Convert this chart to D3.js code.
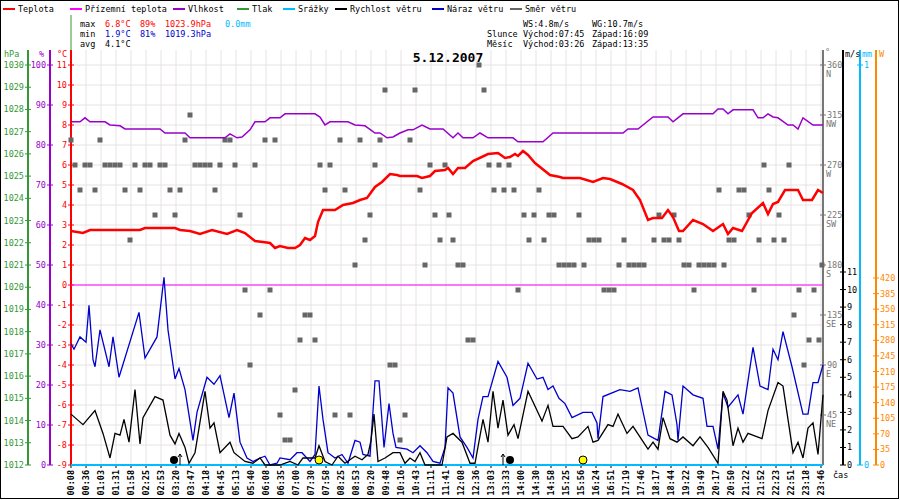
<!DOCTYPE html>
<html><head><meta charset="utf-8">
<script src="https://cdn.jsdelivr.net/npm/d3@7"></script>
<style>body{margin:0;background:#fff}svg{display:block}text{font-family:"DejaVu Sans Mono",monospace;font-size:8.5px}</style>
</head><body>
<svg width="900" height="500"></svg>
<script>
//casove znacky
var casy=["00:08","00:36","01:03","01:31","01:58","02:25","02:53","03:20","03:47","04:18","04:45","05:13","05:40","06:08","06:35","07:00","07:30","07:58","08:25","08:53","09:20","09:48","10:16","10:43","11:11","11:41","12:08","12:36","13:03","13:33","14:00","14:30","14:58","15:25","15:56","16:24","16:51","17:19","17:46","18:17","18:44","19:22","19:49","20:17","20:50","21:22","21:52","22:23","22:51","23:18","23:46"];
//teplota [vzorek, C]
var teplota=[[0,2.7],[2.4,2.6],[3.8,2.75],[13.8,2.75],[14.8,2.85],[20.8,2.85],[21.8,2.75],[23.8,2.7],[25.8,2.55],[28.2,2.75],[31.2,2.55],[33.2,2.75],[34.8,2.6],[36.8,2.2],[38.4,2.15],[39.8,2.1],[40.8,1.85],[41.8,1.95],[43.4,1.85],[44.8,1.85],[45.8,2.0],[46.8,2.35],[47.8,2.25],[48.8,2.45],[49.4,3.15],[50.4,3.75],[52.8,3.75],[54.4,4.0],[56.4,4.1],[57.8,4.25],[59.2,4.35],[60.8,4.9],[62.2,5.15],[63.8,5.55],[65.2,5.5],[65.8,5.45],[69.2,5.45],[70.2,5.35],[71.8,5.45],[72.8,5.7],[74.8,5.75],[75.4,5.85],[76.4,5.55],[77.4,5.85],[78.8,5.85],[80.4,6.2],[83.4,6.55],[85.4,6.6],[86.8,6.35],[87.8,6.4],[88.8,6.55],[89.4,6.45],[90.4,6.7],[91.4,6.5],[92.8,6.1],[95.8,5.5],[97.8,5.4],[98.4,5.35],[101.8,5.35],[104.4,5.15],[106.4,5.35],[107.8,5.3],[110.2,5.05],[112.4,4.75],[113.8,4.25],[115.4,3.25],[116.4,3.35],[118.2,3.35],[119.4,3.75],[120.4,3.4],[121.6,2.7],[122.4,2.7],[124.4,3.25],[126.4,3.05],[128.4,2.7],[130.4,3.05],[131.4,2.55],[132.4,2.85],[134.2,2.7],[136.2,3.6],[138.4,4.1],[139.4,3.55],[140.4,4.05],[141.4,4.15],[142.8,4.75],[145.4,4.75],[146.4,4.25],[148.2,4.25],[149.4,4.75],[150.4,4.6]];
//vlhkost [vzorek, %]
var vlhkost=[[0,85.8],[1.8,85.8],[2.8,86.8],[3.8,85.8],[6.8,85.8],[7.8,85],[9.8,84.8],[10.8,84],[17.8,84],[18.8,83],[22.8,83],[23.8,81.8],[30.8,81.8],[31.8,82.8],[33.2,81.8],[34.2,82],[35.8,83.8],[36.8,85.8],[38.8,85.8],[39.8,86.8],[41.8,86.8],[42.8,87.8],[48.8,87.8],[49.8,87],[50.8,85],[51.8,85.8],[55.4,85.8],[56.8,85],[58.8,84.8],[60.8,83],[61.8,83],[63.2,81.8],[64.4,82],[65.8,83],[67.4,83.8],[68.4,83.8],[70.2,85],[71.8,84],[74.4,84],[76.4,81.8],[77.4,83],[78.4,81.8],[80.4,81.8],[81.8,83],[83.4,81.8],[88.4,81.8],[89.4,80.8],[94.4,80.8],[96.4,83],[110.4,83],[111.4,84],[113.4,84],[116.4,87],[119.4,87],[120.4,85.8],[122.4,87.8],[128.4,87.8],[129.4,89],[130.4,89],[131.4,87.8],[132.4,88.8],[136.4,88.8],[137.4,86.8],[138.4,86.8],[139.4,87.8],[140.4,87],[141.4,86.8],[143.4,85],[144.4,85],[145.4,84],[146.4,86.8],[148.4,85],[150.4,85]];
//naraz vetru [vzorek, m/s]
var naraz=[[0,6.9],[0.6,6.6],[1.8,7.3],[3.0,7.0],[3.6,9.1],[4.4,6.0],[4.8,5.6],[5.8,7.7],[7.6,5.6],[8.4,7.3],[9.6,5.0],[13.6,8.7],[14.8,6.1],[17.2,7.3],[18.6,10.7],[19.4,7.7],[20.8,4.9],[21.6,5.5],[22.8,4.3],[24.4,1.4],[25.2,3.0],[27.2,5.0],[28.6,4.6],[29.8,5.1],[31.6,2.7],[32.6,4.1],[33.8,1.3],[35.2,0.4],[36.4,0.2],[37.8,0.4],[38.8,0.5],[39.8,0],[41.2,0.1],[41.8,0.4],[43.8,0.3],[45.2,0.7],[46.2,0.7],[47.8,0.2],[48.8,0.6],[49.6,4.5],[50.4,2.6],[51.4,0.7],[52.8,0.4],[54.2,0.6],[55.4,0.1],[56.8,1.4],[57.8,1.3],[58.4,0.6],[59.8,0.5],[60.8,4.8],[61.6,4.8],[62.6,1.0],[63.6,3.5],[64.4,1.8],[65,1.0],[67.2,0.9],[68.4,0.7],[69.8,1.1],[71.2,0.7],[72.4,0.2],[73.8,0.1],[74.8,1.0],[75.4,4.4],[76.4,4.1],[77.8,1.6],[79.2,1.0],[80.4,0.4],[81.4,2.6],[82.4,3.9],[83.4,3.9],[85.4,5.9],[87.2,5.0],[88.4,3.4],[89.8,3.8],[91.4,5.8],[93.2,4.9],[94.4,5.0],[95.4,4.3],[96.4,4.5],[97.6,3.8],[98.8,3.5],[100.2,2.7],[102.4,3.0],[104.2,3.0],[105.2,2.4],[105.4,1.5],[106.4,3.9],[109.8,4.3],[111.8,4.2],[113.4,4.4],[115.4,1.7],[117.4,1.4],[118.8,4.2],[120.2,4.0],[121.2,2.3],[121.4,1.4],[122.4,4.5],[124.4,4.0],[126.4,3.8],[127.2,2.2],[128.4,2.2],[129.4,0.9],[130.4,4.1],[131.4,3.3],[133.4,4.0],[134.4,2.9],[136.4,6.7],[137.8,4.5],[139.4,4.3],[140.4,6.6],[141.4,6.0],[142.4,7.6],[144.2,5.6],[146.4,2.9],[147.4,2.9],[148.4,4.7],[149.4,4.7],[150.4,5.7]];
//rychlost vetru [vzorek, m/s]
var rychlost=[[0,2.9],[2.4,2.3],[4.8,3.1],[6.4,1.8],[7.8,0.4],[8.8,1.8],[9.8,1.7],[10.6,2.6],[11.6,1.3],[12.8,4.3],[13.8,1.2],[14.4,2.7],[16.8,3.9],[18.4,3.7],[19.8,1.7],[20.8,1.2],[21.6,1.8],[22.8,1.0],[23.6,0.1],[24.8,0.7],[26.8,4.2],[27.8,2.1],[28.6,2.4],[29.8,0.7],[31.8,1.3],[32.6,0.7],[34.8,0.2],[36.4,0.1],[37.8,0.4],[38.8,0],[41.8,0],[43.8,0.2],[45.4,0],[46.4,0.4],[48.8,0.4],[49.6,1.1],[50.8,0.2],[52.2,0],[53.4,0.5],[54.8,0.1],[56.8,0.5],[58.2,0.3],[59.4,0.6],[60,1.4],[60.6,2.9],[61.4,0.2],[62.8,0.4],[64.4,0.7],[65.8,0.7],[66.8,0.1],[67.8,0.4],[68.8,0.2],[69.8,0.7],[70.8,0],[74.2,0],[75.2,1.6],[76.4,1.8],[78.2,1.3],[79.8,0.1],[80.8,0.1],[82.4,2.6],[83.4,1.3],[84.4,4.2],[85.4,2.1],[86.4,3.7],[87.4,1.7],[88.6,2.3],[89.4,1.5],[91.4,4.2],[94.2,2.5],[95.4,3.4],[96.4,2.2],[98.4,2.2],[100.2,1.5],[101.4,1.6],[103.4,2.2],[104.4,1.3],[105.4,1.4],[107.4,2.3],[108.4,2.2],[109.4,2.9],[111.2,1.8],[112.4,2.2],[115.4,0.9],[116.4,1.3],[117.4,0.9],[118.4,2.7],[119.8,1.5],[121.2,1.3],[122.4,1.6],[124.4,1.1],[125.8,1.6],[127.4,1.0],[129.4,0.1],[130.4,4.2],[131.2,3.7],[132.4,1.1],[133.4,2.1],[134.4,1.3],[135.4,1.8],[138.2,1.5],[139.4,3.1],[141.4,4.7],[142.4,4.5],[144.4,0.7],[145.4,1.3],[146.4,0.4],[147.4,2.1],[148.4,2.4],[149.4,0.6],[150.4,4.0]];
//smer vetru [vzorek, stupne]
var smer=[[0,292.5],[0.8,270],[1.8,247.5],[2.8,270],[3.8,270],[4.8,247.5],[5.8,292.5],[6.8,270],[7.8,270],[8.8,270],[9.8,270],[10.8,247.5],[11.8,202.5],[12.8,270],[13.8,247.5],[14.8,270],[15.8,270],[16.8,225],[17.8,270],[18.8,270],[19.8,247.5],[20.8,225],[21.8,247.5],[22.8,292.5],[23.8,315],[24.8,270],[25.8,270],[26.8,270],[27.8,270],[28.8,247.5],[29.8,270],[30.8,292.5],[31.8,292.5],[32.8,270],[33.8,225],[34.8,157.5],[35.8,90],[36.8,270],[37.8,135],[38.8,292.5],[39.8,157.5],[40.8,292.5],[41.8,45],[42.8,22.5],[43.8,22.5],[44.8,67.5],[45.8,112.5],[46.8,135],[47.8,135],[48.8,112.5],[49.8,270],[50.8,247.5],[51.8,270],[52.8,45],[53.8,292.5],[54.8,247.5],[55.8,45],[56.8,180],[57.8,292.5],[58.8,202.5],[59.8,225],[60.8,270],[61.8,292.5],[62.8,337.5],[63.8,90],[64.8,90],[65.8,22.5],[66.8,45],[67.8,292.5],[68.8,337.5],[69.8,247.5],[70.8,180],[71.8,270],[72.8,225],[73.8,202.5],[74.8,270],[75.6,225],[76.4,202.5],[77.4,180],[78.4,180],[79.4,112.5],[80.4,112.5],[81.6,360],[82.6,337.5],[83.6,270],[84.6,247.5],[85.6,270],[86.6,247.5],[87.6,270],[88.6,247.5],[89.4,157.5],[90.6,225],[91.6,202.5],[92.6,225],[93.6,247.5],[94.6,202.5],[95.6,225],[96.6,225],[97.6,180],[98.6,180],[99.6,180],[100.6,180],[101.6,225],[102.6,180],[103.6,202.5],[104.6,202.5],[105.6,202.5],[106.6,157.5],[107.6,157.5],[108.6,157.5],[109.6,180],[110.6,202.5],[111.6,180],[112.6,180],[113.6,180],[114.6,180],[116.6,202.5],[117.6,225],[118.6,202.5],[119.6,202.5],[120.6,225],[121.6,202.5],[122.6,180],[123.6,180],[124.6,157.5],[125.6,180],[126.6,180],[127.6,180],[128.6,180],[129.6,247.5],[130.6,180],[131.6,202.5],[132.6,202.5],[133.6,247.5],[134.6,247.5],[135.6,225],[136.6,157.5],[137.6,202.5],[138.6,270],[139.6,247.5],[140.6,202.5],[141.6,225],[142.6,202.5],[143.6,270],[144.6,135],[145.6,157.5],[146.6,90],[147.6,112.5],[148.6,157.5],[149.6,112.5],[150.2,180]];
//udalosti
var tecky=[[20.6,"#000"],[87.8,"#000"],[49.6,"#ff0"],[102.4,"#ff0"]];
var sipky=[21.8,86.4];

var svg=d3.select("svg");
var x=d3.scaleLinear().domain([0,150]).range([71,821]);
var yT=d3.scaleLinear().domain([-9,11]).range([465,65]);
var yP=d3.scaleLinear().domain([1012,1030]).range([465,65]);
var yH=d3.scaleLinear().domain([0,100]).range([465,65]);
var yD=d3.scaleLinear().domain([0,360]).range([465,65]);
var yW=d3.scaleLinear().domain([0,11]).range([465,272]);
var yR=d3.scaleLinear().domain([0,1]).range([465,65]);
var yS=d3.scaleLinear().domain([0,420]).range([465,278]);

svg.append("rect").attr("x",0.5).attr("y",0.5).attr("width",898).attr("height",498).attr("fill","none").attr("stroke","#000");

//mrizka
var grid=svg.append("g").attr("stroke","#e6e2e2");
casy.forEach(function(c,i){grid.append("line").attr("x1",x(i*3)).attr("x2",x(i*3)).attr("y1",50).attr("y2",465);});
d3.range(-9,12).forEach(function(t){grid.append("line").attr("x1",71).attr("x2",823).attr("y1",yT(t)).attr("y2",yT(t));});

//legenda
var leg=[["Teplota","#f00",3],["Přízemní teplota","#f0f",70],["Vlhkost","#90c",173],["Tlak","#393",237],["Srážky","#0bf",283],["Rychlost větru","#000",335],["Náraz větru","#00c",432],["Směr větru","#666",510]];
leg.forEach(function(l){
  svg.append("line").attr("x1",l[2]).attr("x2",l[2]+12).attr("y1",9).attr("y2",9).attr("stroke",l[1]).attr("stroke-width",2);
  svg.append("text").attr("x",l[2]+15).attr("y",12).text(l[0]);
});
svg.append("line").attr("x1",71).attr("x2",71).attr("y1",15).attr("y2",50).attr("stroke","#393");
//statistiky
var st=[["max",80,27,"#000"],["6.8°C",105,27,"#f00"],["89%",140,27,"#f00"],["1023.9hPa",165,27,"#f00"],["0.0mm",225,27,"#0bf"],
["min",80,37,"#000"],["1.9°C",105,37,"#00c"],["81%",140,37,"#00c"],["1019.3hPa",165,37,"#00c"],
["avg",80,47,"#000"],["4.1°C",105,47,"#000"],
["WS:4.8m/s",523,27,"#000"],["WG:10.7m/s",592,27,"#000"],
["Slunce",487,37,"#000"],["Východ:07:45",523,37,"#000"],["Západ:16:09",592,37,"#000"],
["Měsíc",487,47,"#000"],["Východ:03:26",523,47,"#000"],["Západ:13:35",592,47,"#000"]];
st.forEach(function(s){svg.append("text").attr("x",s[1]).attr("y",s[2]).attr("fill",s[3]).text(s[0]);});
svg.append("text").attr("x",448).attr("y",62).attr("text-anchor","middle").style("font-size","13px").style("font-weight","bold").text("5.12.2007");

//osy
function osa(g,scale,ticks,col,px){
  var a=svg.append("g").attr("transform","translate("+px+",0)");
  a.append("line").attr("x1",0).attr("x2",0).attr("y1",50).attr("y2",465).attr("stroke",col).attr("stroke-width",2);
  ticks.forEach(function(t){
    var yy=scale(t);
    a.append("line").attr("x1",-3).attr("x2",3).attr("y1",yy).attr("y2",yy).attr("stroke",col);
    a.append("text").attr("x",g<0?-4:4).attr("y",yy+3).attr("text-anchor",g<0?"end":"start").attr("fill",col).text(t);
  });
  return a;
}
osa(-1,yP,d3.range(1012,1031),"#393",28);
osa(-1,yH,d3.range(0,101,10),"#90c",50);
osa(-1,yT,d3.range(-9,12),"#f00",71);
svg.append("text").attr("x",4).attr("y",57).attr("fill","#393").text("hPa");
svg.append("text").attr("x",39).attr("y",57).attr("fill","#90c").text("%");
svg.append("text").attr("x",57).attr("y",57).attr("fill","#f00").text("°C");
osa(1,yD,[45,90,135,180,225,270,315,360],"#777",823);
var sm={45:"NE",90:"E",135:"SE",180:"S",225:"SW",270:"W",315:"NW",360:"N"};
[45,90,135,180,225,270,315,360].forEach(function(d){svg.append("text").attr("x",826).attr("y",yD(d)+12).attr("fill","#777").text(sm[d]);});
osa(1,yW,d3.range(0,12),"#000",843);
osa(1,yR,[0,1],"#0bf",860);
osa(1,yS,d3.range(0,421,35),"#f80",876);
svg.append("text").attr("x",825).attr("y",55).attr("fill","#777").text("°");
svg.append("text").attr("x",845).attr("y",57).attr("fill","#000").text("m/s");
svg.append("text").attr("x",862).attr("y",57).attr("fill","#0bf").text("mm");
svg.append("text").attr("x",879).attr("y",57).attr("fill","#f80").text("W");
svg.append("text").attr("x",833).attr("y",478).text("čas");

//casova osa
casy.forEach(function(c,i){
  svg.append("line").attr("x1",x(i*3)).attr("x2",x(i*3)).attr("y1",465).attr("y2",468).attr("stroke","#000");
  svg.append("text").attr("transform","translate("+(x(i*3)+3)+",470) rotate(-90)").attr("text-anchor","end").style("font-weight","bold").text(c);
});

//smer vetru
svg.append("g").selectAll("rect").data(smer).enter().append("rect")
  .attr("x",function(d){return x(d[0])-2.5;}).attr("y",function(d){return yD(d[1])-2.5;})
  .attr("width",5).attr("height",5).attr("fill","#666");

//prizemni teplota a srazky
svg.append("line").attr("x1",71).attr("x2",823).attr("y1",yT(0)).attr("y2",yT(0)).attr("stroke","#f0f");
svg.append("line").attr("x1",71).attr("x2",823).attr("y1",yR(0)).attr("y2",yR(0)).attr("stroke","#0bf").attr("stroke-width",2);

var line=function(ys){return d3.line().x(function(d){return x(d[0]);}).y(function(d){return ys(d[1]);});};
svg.append("path").datum(naraz).attr("fill","none").attr("stroke","#00c").attr("stroke-width",1.3).attr("d",line(yW));
svg.append("path").datum(rychlost).attr("fill","none").attr("stroke","#000").attr("stroke-width",1.3).attr("d",line(yW));
svg.append("path").datum(vlhkost).attr("fill","none").attr("stroke","#90c").attr("stroke-width",1.5).attr("d",line(yH));
svg.append("path").datum(teplota).attr("fill","none").attr("stroke","#f00").attr("stroke-width",2.5).attr("d",line(yT));

//udalosti
tecky.forEach(function(t){
  svg.append("circle").attr("cx",x(t[0])).attr("cy",460).attr("r",4).attr("fill",t[1]).attr("stroke","#000").attr("stroke-width",t[1]=="#000"?0:1);
});
sipky.forEach(function(s){
  svg.append("line").attr("x1",x(s)).attr("x2",x(s)).attr("y1",465).attr("y2",454).attr("stroke","#000");
  svg.append("path").attr("d","M"+(x(s)-2)+",457L"+x(s)+",454L"+(x(s)+2)+",457").attr("fill","none").attr("stroke","#000");
});
</script>
</body></html>
